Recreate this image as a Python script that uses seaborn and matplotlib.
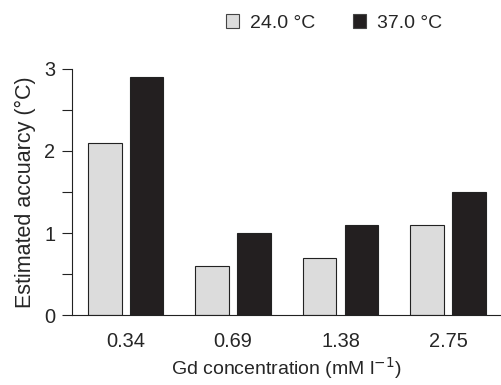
import matplotlib
matplotlib.use("Agg")
import matplotlib.pyplot as plt
import seaborn as sns
import pandas as pd
from matplotlib.ticker import MultipleLocator

concentrations = ["0.34", "0.69", "1.38", "2.75"]
temps = ["24.0 °C", "37.0 °C"]
acc_24 = [2.1, 0.6, 0.7, 1.1]
acc_37 = [2.9, 1.0, 1.1, 1.5]

df = pd.DataFrame({
    "conc": concentrations * 2,
    "temp": [temps[0]] * 4 + [temps[1]] * 4,
    "acc": acc_24 + acc_37,
})

sns.set_style("ticks")
plt.rcParams["font.family"] = ["Liberation Sans", "DejaVu Sans"]

fig = plt.figure(figsize=(5.02, 3.85), dpi=100)
ax = fig.add_axes([0.1434, 0.1818, 0.856, 0.639])

sns.barplot(data=df, x="conc", y="acc", hue="temp", ax=ax,
            palette=["#dcdcdc", "#231f20"], width=0.78, gap=0.2,
            edgecolor="#222222", linewidth=0.8, saturation=1)

ax.set_xlim(-0.5, 3.5)
ax.set_ylim(0, 3)
ax.yaxis.set_major_locator(MultipleLocator(1))
ax.yaxis.set_minor_locator(MultipleLocator(0.5))
ax.tick_params(axis="y", which="both", length=7, width=0.8, labelsize=14.4,
               color="#222222", direction="out", pad=5)
ax.tick_params(axis="x", length=0, labelsize=14.4, pad=12)
for s in ["top", "right"]:
    ax.spines[s].set_visible(False)
for s in ["left", "bottom"]:
    ax.spines[s].set_linewidth(0.8)
    ax.spines[s].set_color("#222222")

ax.set_xlabel("Gd concentration (mM l$^{-1}$)", fontsize=14, labelpad=3)
ax.set_ylabel("Estimated accuarcy (°C)", fontsize=15.5, labelpad=6)

leg = ax.legend(loc="center left", bbox_to_anchor=(226 / 502, 1 - 23 / 385),
                bbox_transform=fig.transFigure, ncol=2, frameon=False,
                fontsize=14, handlelength=0.67, handleheight=0.67, handletextpad=0.55,
                columnspacing=1.95, borderaxespad=0, borderpad=0)
for h in leg.legend_handles:
    h.set_edgecolor("#444444")
    h.set_linewidth(0.8)

fig.savefig("out.png", dpi=100)
